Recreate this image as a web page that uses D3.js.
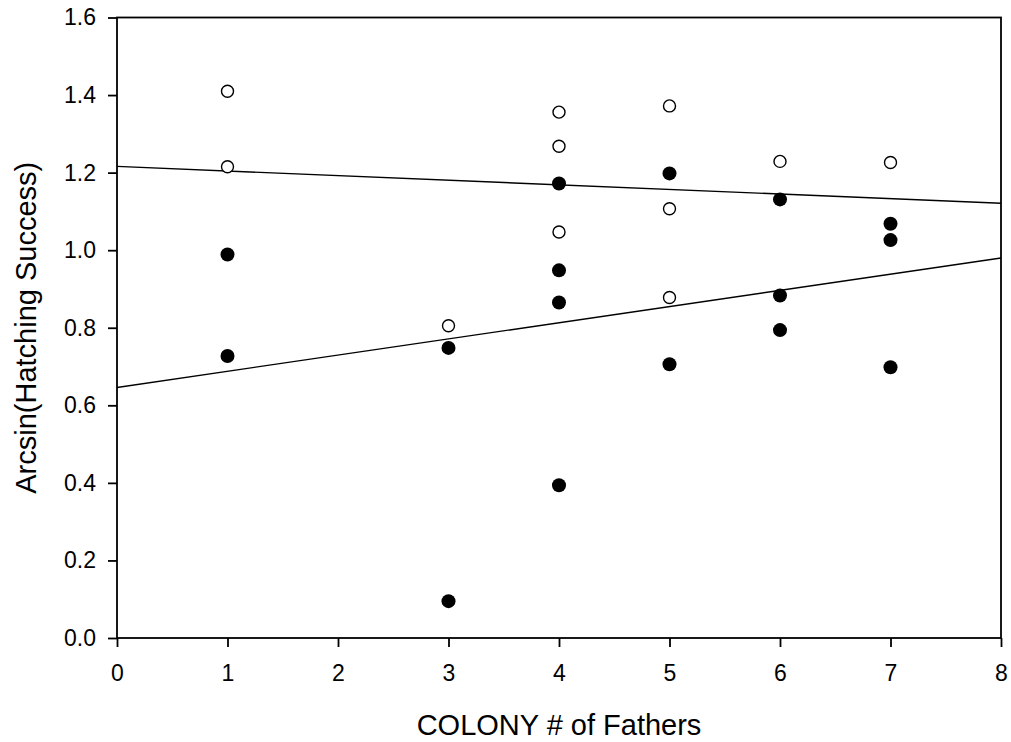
<!DOCTYPE html>
<html>
<head>
<meta charset="utf-8">
<script src="https://cdn.jsdelivr.net/npm/d3@7"></script>
<style>
  html, body { margin: 0; padding: 0; background: #fff; }
  svg { display: block; font-family: "Liberation Sans", Arial, sans-serif; }
</style>
</head>
<body>
<svg id="chart" width="1011" height="742"></svg>
<script>
// ---- data ----
const xTicks = [0, 1, 2, 3, 4, 5, 6, 7, 8];
const yTicks = [0.0, 0.2, 0.4, 0.6, 0.8, 1.0, 1.2, 1.4, 1.6];

// open circles
const openX = [1, 1, 3, 4, 4, 4, 5, 5, 5, 6, 7];
const openY = [1.410, 1.215, 0.805, 1.356, 1.268, 1.047, 1.372, 1.107, 0.878, 1.229, 1.226];

// filled circles
const filledX = [1, 1, 3, 3, 4, 4, 4, 4, 5, 5, 6, 6, 6, 7, 7, 7];
const filledY = [0.989, 0.727, 0.748, 0.095, 1.172, 0.948, 0.865, 0.394, 1.198, 0.706, 1.131, 0.883, 0.794, 1.068, 1.026, 0.698];

// regression lines: values at x = 0 and x = 8
const lineX = [0, 8];
const openLineY = [1.216, 1.121];
const filledLineY = [0.646, 0.980];

const xTitle = "COLONY # of Fathers";
const yTitle = "Arcsin(Hatching Success)";

// ---- layout ----
const svg = d3.select("#chart");
const mLeft = 117, mRight = 1001, mTop = 17.5, mBottom = 638;

const x = d3.scaleLinear().domain([0, 8]).range([mLeft, mRight]);
const y = d3.scaleLinear().domain([0, 1.6]).range([mBottom, mTop]);

// frame
svg.append("rect")
  .attr("x", mLeft).attr("y", mTop)
  .attr("width", mRight - mLeft).attr("height", mBottom - mTop)
  .attr("fill", "none").attr("stroke", "#000").attr("stroke-width", 1.8);

// axes
const xAxis = d3.axisBottom(x).tickValues(xTicks).tickFormat(d3.format("d"))
  .tickSizeInner(9).tickSizeOuter(0).tickPadding(18);
const yAxis = d3.axisLeft(y).tickValues(yTicks).tickFormat(d3.format(".1f"))
  .tickSizeInner(9).tickSizeOuter(0).tickPadding(12);

const gx = svg.append("g").attr("transform", `translate(0,${mBottom})`).call(xAxis);
const gy = svg.append("g").attr("transform", `translate(${mLeft},0)`).call(yAxis);
[gx, gy].forEach(g => {
  g.select(".domain").remove();
  g.attr("font-size", null).attr("font-family", null);
  g.selectAll(".tick line").attr("stroke", "#000").attr("stroke-width", 1.8);
  g.selectAll(".tick text").attr("fill", "#000")
    .style("font-size", "23px").style("font-family", "'Liberation Sans', Arial, sans-serif");
});

// regression lines
const line = d3.line().x(d => x(d[0])).y(d => y(d[1]));
[openLineY, filledLineY].forEach(ys => {
  svg.append("path")
    .datum(lineX.map((v, i) => [v, ys[i]]))
    .attr("d", line)
    .attr("fill", "none").attr("stroke", "#000").attr("stroke-width", 1.4);
});

// points
svg.append("g").selectAll("circle")
  .data(filledX.map((v, i) => [v, filledY[i]]))
  .join("circle")
  .attr("cx", d => x(d[0])).attr("cy", d => y(d[1]))
  .attr("r", 7).attr("fill", "#000");

svg.append("g").selectAll("circle")
  .data(openX.map((v, i) => [v, openY[i]]))
  .join("circle")
  .attr("cx", d => x(d[0])).attr("cy", d => y(d[1]))
  .attr("r", 6).attr("fill", "#fff").attr("stroke", "#000").attr("stroke-width", 1.4);

// axis titles
svg.append("text")
  .attr("x", (mLeft + mRight) / 2).attr("y", 735)
  .attr("text-anchor", "middle")
  .style("font-size", "29px").attr("fill", "#000")
  .text(xTitle);

svg.append("text")
  .attr("transform", `translate(36,${(mTop + mBottom) / 2}) rotate(-90)`)
  .attr("text-anchor", "middle")
  .style("font-size", "29px").attr("fill", "#000")
  .text(yTitle);
</script>
</body>
</html>
